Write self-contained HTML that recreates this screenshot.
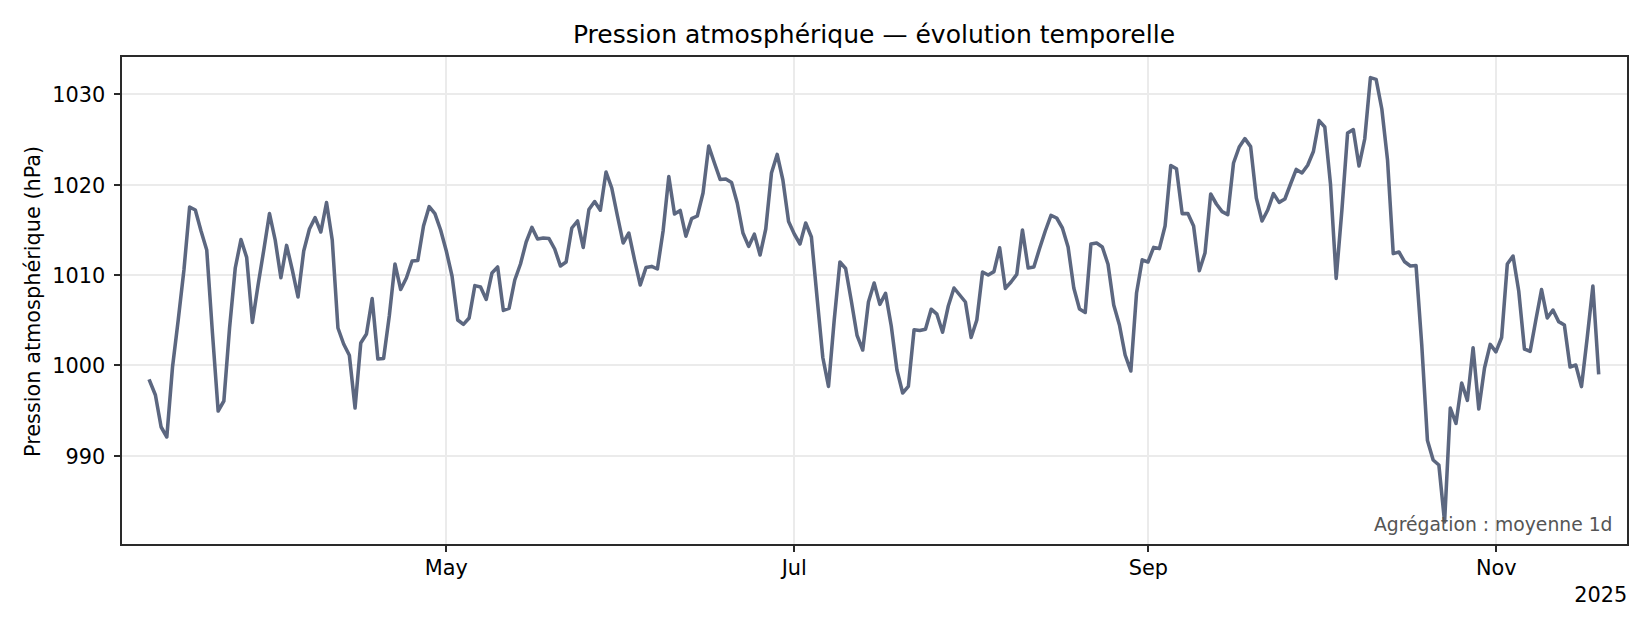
<!DOCTYPE html>
<html lang="fr"><head><meta charset="utf-8"><title>Pression atmosphérique — évolution temporelle</title>
<style>html,body{margin:0;padding:0;background:#fff}body{width:1650px;height:630px;overflow:hidden}svg{display:block}text{font-family:"DejaVu Sans","Liberation Sans",sans-serif;fill:#000}</style></head><body>
<svg width="1650" height="630" viewBox="0 0 1650 630">
<rect width="1650" height="630" fill="#fff"/>
<path d="M446 56V545M794 56V545M1148 56V545M1496 56V545M121 94H1628M121 185H1628M121 275H1628M121 365H1628M121 456H1628" stroke="#ebebeb" stroke-width="2" fill="none"/>
<clipPath id="c"><rect x="121" y="56" width="1507" height="489"/></clipPath>
<polyline clip-path="url(#c)" points="149.70,381.0 155.40,395.0 161.11,427.0 166.81,437.0 172.52,367.0 178.22,320.0 183.93,270.0 189.63,207.0 195.33,210.0 201.04,231.0 206.74,250.0 212.45,333.0 218.15,411.0 223.86,401.0 229.56,328.0 235.26,268.0 240.97,239.6 246.67,257.4 252.38,322.4 258.08,285.0 263.79,250.0 269.49,213.6 275.19,240.0 280.90,277.8 286.60,245.4 292.31,270.0 298.01,297.0 303.72,251.0 309.42,229.0 315.12,217.6 320.83,232.0 326.53,202.6 332.24,240.0 337.94,328.0 343.65,344.0 349.35,355.3 355.05,408.0 360.76,343.0 366.46,334.0 372.17,298.6 377.87,359.0 383.58,358.4 389.28,316.0 394.98,264.0 400.69,289.5 406.39,278.0 412.10,261.0 417.80,260.4 423.51,226.0 429.21,206.6 434.91,213.6 440.62,230.0 446.32,251.0 452.03,276.0 457.73,320.0 463.44,324.4 469.14,318.0 474.85,285.6 480.55,287.0 486.25,299.4 491.96,273.0 497.66,267.0 503.37,310.4 509.07,308.4 514.78,280.0 520.48,264.0 526.18,242.0 531.89,227.4 537.59,239.0 543.30,238.0 549.00,238.6 554.71,249.0 560.41,266.0 566.11,262.0 571.82,228.0 577.52,221.0 583.23,247.4 588.93,209.5 594.64,201.5 600.34,210.2 606.04,172.0 611.75,188.0 617.45,216.0 623.16,243.0 628.86,233.0 634.57,260.0 640.27,285.0 645.97,267.6 651.68,266.4 657.38,269.0 663.09,231.0 668.79,176.6 674.50,214.0 680.20,210.4 685.90,236.2 691.61,218.7 697.31,216.0 703.02,193.0 708.72,146.0 714.43,163.0 720.13,179.4 725.83,179.0 731.54,182.6 737.24,203.0 742.95,233.0 748.65,246.4 754.36,234.2 760.06,255.0 765.76,229.0 771.47,173.0 777.17,154.4 782.88,180.0 788.58,221.6 794.29,234.0 799.99,244.0 805.69,223.0 811.40,237.0 817.10,298.0 822.81,357.5 828.51,386.4 834.22,320.0 839.92,262.0 845.62,268.5 851.33,301.0 857.03,335.3 862.74,350.0 868.44,302.0 874.15,283.0 879.85,304.4 885.55,293.4 891.26,326.0 896.96,370.0 902.67,393.0 908.37,386.4 914.08,329.8 919.78,330.5 925.48,329.2 931.19,309.2 936.89,314.2 942.60,332.2 948.30,306.0 954.01,288.0 959.71,295.0 965.41,302.0 971.12,337.5 976.82,320.0 982.53,272.0 988.23,275.0 993.94,271.6 999.64,247.8 1005.35,288.4 1011.05,282.0 1016.75,274.4 1022.46,230.0 1028.16,268.0 1033.87,267.0 1039.57,248.5 1045.28,231.0 1050.98,215.4 1056.68,218.0 1062.39,228.0 1068.09,247.0 1073.80,288.0 1079.50,309.0 1085.21,312.5 1090.91,244.0 1096.61,243.0 1102.32,247.0 1108.02,264.2 1113.73,305.0 1119.43,325.0 1125.14,355.0 1130.84,371.0 1136.54,293.0 1142.25,259.8 1147.95,262.0 1153.66,247.4 1159.36,248.6 1165.07,226.0 1170.77,165.5 1176.47,168.8 1182.18,213.6 1187.88,213.6 1193.59,226.0 1199.29,270.7 1205.00,253.0 1210.70,194.0 1216.40,204.0 1222.11,211.6 1227.81,214.6 1233.52,163.0 1239.22,147.0 1244.93,138.6 1250.63,146.6 1256.33,198.0 1262.04,221.0 1267.74,210.0 1273.45,193.6 1279.15,202.4 1284.86,199.0 1290.56,184.0 1296.26,169.4 1301.97,173.0 1307.67,165.2 1313.38,151.5 1319.08,120.6 1324.79,127.0 1330.49,184.0 1336.19,278.4 1341.90,210.0 1347.60,133.0 1353.31,129.6 1359.01,166.0 1364.72,139.0 1370.42,77.6 1376.12,79.4 1381.83,109.0 1387.53,160.0 1393.24,253.6 1398.94,252.0 1404.65,261.8 1410.35,266.0 1416.05,265.6 1421.76,345.0 1427.46,440.6 1433.17,460.0 1438.87,465.0 1444.58,522.0 1450.28,408.0 1455.98,423.4 1461.69,383.0 1467.39,400.4 1473.10,347.8 1478.80,409.0 1484.51,368.0 1490.21,344.4 1495.91,351.8 1501.62,337.5 1507.32,264.0 1513.03,256.0 1518.73,291.0 1524.44,349.0 1530.14,351.4 1535.84,320.0 1541.55,289.6 1547.25,318.0 1552.96,310.0 1558.66,321.6 1564.37,325.0 1570.07,367.0 1575.78,365.0 1581.48,386.6 1587.18,338.0 1592.89,286.0 1598.59,372.6" fill="none" stroke="#5c6780" stroke-width="3.55" stroke-linejoin="round" stroke-linecap="square"/>
<path d="M446 545v7M794 545v7M1148 545v7M1496 545v7M121 94h-7M121 185h-7M121 275h-7M121 365h-7M121 456h-7" stroke="#2a2a2a" stroke-width="2" fill="none"/>
<rect x="121" y="56" width="1507" height="489" fill="none" stroke="#2a2a2a" stroke-width="2"/>
<text id="title" x="874.0" y="43.2" font-size="25" text-anchor="middle" textLength="602.1" lengthAdjust="spacing">Pression atmosphérique — évolution temporelle</text>
<text class="yt" x="105.2" y="101.9" font-size="20.83" text-anchor="end">1030</text>
<text class="yt" x="105.2" y="192.9" font-size="20.83" text-anchor="end">1020</text>
<text class="yt" x="105.2" y="282.9" font-size="20.83" text-anchor="end">1010</text>
<text class="yt" x="105.2" y="372.9" font-size="20.83" text-anchor="end">1000</text>
<text class="yt" x="105.2" y="463.9" font-size="20.83" text-anchor="end">990</text>
<text class="xt" x="446.3" y="574.5" font-size="20.83" text-anchor="middle">May</text>
<text class="xt" x="794.3" y="574.5" font-size="20.83" text-anchor="middle">Jul</text>
<text class="xt" x="1148.3" y="574.5" font-size="20.83" text-anchor="middle">Sep</text>
<text class="xt" x="1496.3" y="574.5" font-size="20.83" text-anchor="middle">Nov</text>
<text id="off" x="1627.2" y="602" font-size="20.83" text-anchor="end">2025</text>
<text id="ylab" transform="translate(39.5 301.4) rotate(-90)" font-size="20.83" text-anchor="middle">Pression atmosphérique (hPa)</text>
<text id="ann" x="1612.5" y="530.8" font-size="18.75" text-anchor="end" style="fill:#555555">Agrégation : moyenne 1d</text>
</svg></body></html>
